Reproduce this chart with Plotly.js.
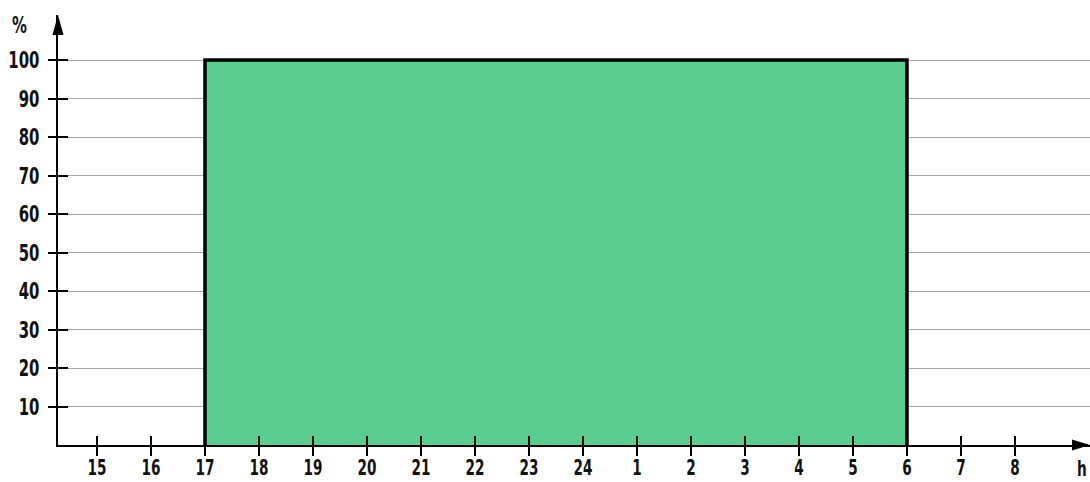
<!DOCTYPE html>
<html><head><meta charset="utf-8">
<script src="https://cdn.plot.ly/plotly-3.0.1.min.js"></script>
<style>html,body{margin:0;padding:0;background:#fff}#c{width:1090px;height:482px}</style>
</head><body><div id="c"></div>
<script>
const hours = ["15","16","17","18","19","20","21","22","23","24","1","2","3","4","5","6","7","8"];
const share = [0,0,100,100,100,100,100,100,100,100,100,100,100,100,100,0,0,0];
const yTicks = [10,20,30,40,50,60,70,80,90,100];

// active span
const first = share.findIndex(v => v > 0);
let last = first; while (last + 1 < share.length && share[last + 1] > 0) last++;
const spanX = hours.slice(first, last + 2);
const spanY = share.slice(first, last + 2);
const outX = [hours[first]].concat(spanX);
const outY = [0].concat(spanY);

const font = {family: "DejaVu Sans Condensed, DejaVu Sans", size: 23, color: "#111", weight: "bold"};
const xfont = {family: "DejaVu Sans Condensed, DejaVu Sans", size: 21, color: "#111", weight: "bold"};
const NARROW = 0.72;

const W = 1032, H = 430; // plot area px
const px = v => v / W, py = v => v / H;

const data = [
  {x: spanX, y: spanY, type: "scatter", mode: "lines", line: {shape: "hv", width: 0},
   fill: "tozeroy", fillcolor: "#5BCD8F", hoverinfo: "skip"},
  {x: outX, y: outY, type: "scatter", mode: "lines", line: {shape: "hv", width: 3.5, color: "#000"},
   hoverinfo: "skip"},
  {x: hours, y: hours.map(() => null), xaxis: "x2", yaxis: "y2", type: "scatter", mode: "lines"}
];

const layout = {
  width: 1090, height: 482,
  margin: {l: 58, r: 0, t: 15, b: 37},
  paper_bgcolor: "#fff", plot_bgcolor: "#fff",
  showlegend: false,
  xaxis: {type: "category", categoryarray: hours, range: [-0.722, 18.389],
    showgrid: false, zeroline: false, showline: true, linecolor: "#000", linewidth: 2,
    ticks: "outside", ticklen: 9, tickwidth: 2, tickcolor: "#000",
    ticklabelstandoff: -6, tickfont: xfont, fixedrange: true},
  yaxis: {range: [0, 111.69], tickvals: yTicks, ticktext: yTicks.map(String),
    showgrid: true, gridcolor: "#a6a6a6", gridwidth: 1, zeroline: false,
    showline: true, linecolor: "#000", linewidth: 2,
    ticks: "outside", ticklen: 8, tickwidth: 2, tickcolor: "#000",
    ticklabelstandoff: 4, tickfont: font, fixedrange: true},
  xaxis2: {type: "category", categoryarray: hours, range: [-0.722, 18.389], overlaying: "x",
    matches: "x", showgrid: false, zeroline: false, showline: false, showticklabels: false,
    ticks: "inside", ticklen: 9, tickwidth: 2, tickcolor: "#000"},
  yaxis2: {range: [0, 111.69], tickvals: yTicks, overlaying: "y", showgrid: false, zeroline: false,
    showline: false, showticklabels: false, ticks: "inside", ticklen: 10, tickwidth: 2, tickcolor: "#000"},
  shapes: [
    {type: "path", xref: "paper", yref: "paper", fillcolor: "#000", line: {width: 0},
     path: `M ${px(-5.5)} ${1 - py(20)} L 0 1 L ${px(5.5)} ${1 - py(20)} Z`},
    {type: "path", xref: "paper", yref: "paper", fillcolor: "#000", line: {width: 0},
     path: `M ${1 - px(18)} ${py(5.5)} L 1 0 L ${1 - px(18)} ${-py(5.5)} Z`}
  ],
  annotations: [
    {xref: "paper", yref: "paper", x: px(19 - 58), y: 1 - py(10), xanchor: "center", yanchor: "middle",
     showarrow: false, text: "%", font: font},
    {xref: "paper", yref: "paper", x: px(1081 - 58), y: -py(24), xanchor: "center", yanchor: "middle",
     showarrow: false, text: "h", font: xfont}
  ]
};

Plotly.newPlot("c", data, layout, {displayModeBar: false, staticPlot: true}).then(() => {
  document.querySelectorAll('#c .xtick text, #c .ytick text, #c .annotation-text').forEach(t => {
    const x = +(t.getAttribute('x') || 0), y = +(t.getAttribute('y') || 0);
    const tr = t.getAttribute('transform') || '';
    t.setAttribute('transform', `${tr} translate(${x},${y}) scale(${NARROW},1) translate(${-x},${-y})`);
  });
});
</script></body></html>
